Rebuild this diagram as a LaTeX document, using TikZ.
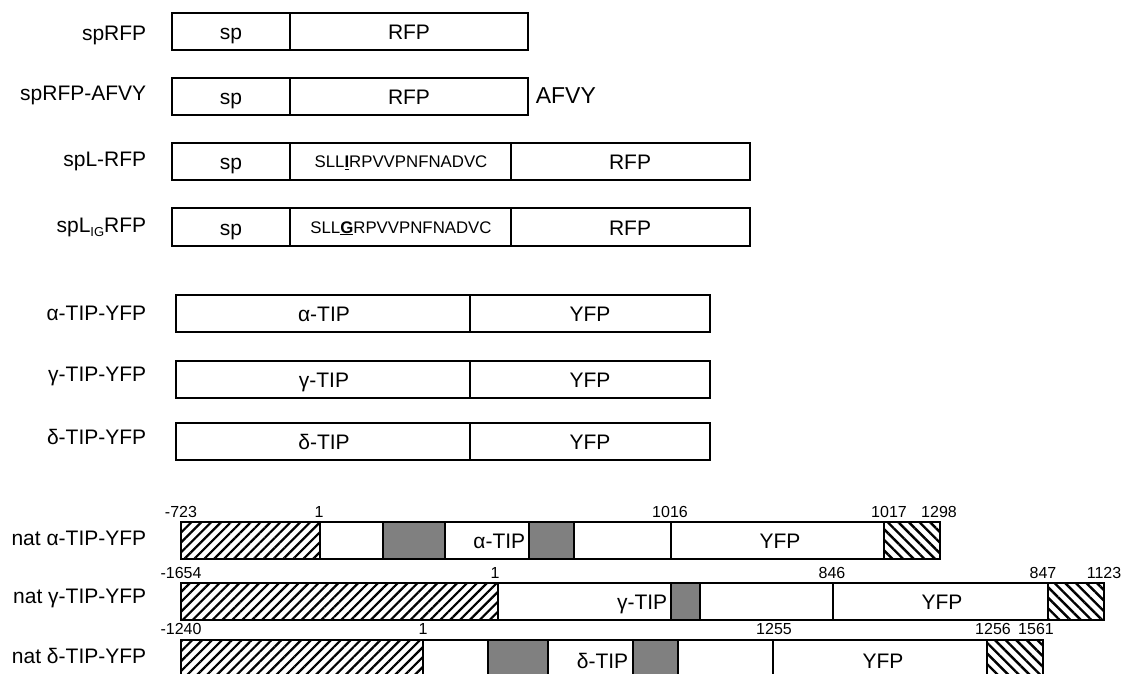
\documentclass[tikz,border=0pt]{standalone}
\usepackage{fontspec}
\setmainfont{Liberation Sans}
\usetikzlibrary{patterns.meta}
\begin{document}
\begin{tikzpicture}[x=1pt,y=-1pt,line width=1.6pt,
  lbl/.style={anchor=base east,font=\fontsize{21}{24}\selectfont,inner sep=0pt},
  btxt/.style={anchor=base,font=\fontsize{21}{24}\selectfont,inner sep=0pt},
  stxt/.style={anchor=base,font=\fontsize{16.8}{19}\selectfont,inner sep=0pt},
  num/.style={anchor=base,font=\fontsize{16}{19}\selectfont,inner sep=0pt},
  seg/.style={draw=black,fill=white},
  hatchL/.style={draw=black,pattern={Lines[angle=45,distance=7pt,line width=2.2pt]}},
  hatchR/.style={draw=black,pattern={Lines[angle=-45,distance=7.5pt,line width=2.4pt]}},
  greyblk/.style={draw=black,fill=black!50}]
\clip (0,0) rectangle (1127,674);
\fill[white] (0,0) rectangle (1127,674);

% ---- spRFP
\draw[seg] (172,13) rectangle (528,50);
\draw (290,13) -- (290,50);
\node[lbl] (l1) at (147,40.5) {spRFP};
\node[btxt] (t1a) at (231,40) {sp};
\node[btxt] (t1b) at (409,40) {RFP};

% ---- spRFP-AFVY
\draw[seg] (172,78) rectangle (528,115);
\draw (290,78) -- (290,115);
\node[lbl] (l2) at (147,100.5) {spRFP-AFVY};
\node[btxt] (t2a) at (231,104.5) {sp};
\node[btxt] (t2b) at (409,104.5) {RFP};
\node[anchor=base west,inner sep=0pt,font=\fontsize{23}{26}\selectfont] (t2c) at (535,103.5) {AFVY};

% ---- spL-RFP
\draw[seg] (172,143) rectangle (750,180);
\draw (290,143) -- (290,180);
\draw (511,143) -- (511,180);
\node[lbl] (l3) at (147,166.5) {spL-RFP};
\node[btxt] (t3a) at (231,169.5) {sp};
\node[stxt] (t3b) at (401,167.5) {SLL\underline{\textbf{I}}RPVVPNFNADVC};
\node[btxt] (t3c) at (630,169.5) {RFP};

% ---- spLIGRFP
\draw[seg] (172,208) rectangle (750,246);
\draw (290,208) -- (290,246);
\draw (511,208) -- (511,246);
\node[lbl] (l4) at (147,232.5) {spL\raisebox{-0.35ex}{\fontsize{13}{14}\selectfont IG}RFP};
\node[btxt] (t4a) at (231,235) {sp};
\node[stxt] (t4b) at (401,233) {SLL\underline{\textbf{G}}RPVVPNFNADVC};
\node[btxt] (t4c) at (630,235) {RFP};

% ---- alpha-TIP-YFP
\draw[seg] (176,295) rectangle (710,332);
\draw (470,295) -- (470,332);
\node[lbl] (l5) at (147,320.5) {α-TIP-YFP};
\node[btxt] (t5a) at (324,321.5) {α-TIP};
\node[btxt] (t5b) at (590,321.5) {YFP};

% ---- gamma-TIP-YFP
\draw[seg] (176,361) rectangle (710,398);
\draw (470,361) -- (470,398);
\node[lbl] (l6) at (147,381) {γ-TIP-YFP};
\node[btxt] (t6a) at (324,387.5) {γ-TIP};
\node[btxt] (t6b) at (590,387.5) {YFP};

% ---- delta-TIP-YFP
\draw[seg] (176,423) rectangle (710,460);
\draw (470,423) -- (470,460);
\node[lbl] (l7) at (147,444) {δ-TIP-YFP};
\node[btxt] (t7a) at (324,449.5) {δ-TIP};
\node[btxt] (t7b) at (590,449.5) {YFP};

% ---- nat alpha-TIP-YFP
\draw[seg] (181,522) rectangle (940,559);
\draw[hatchL] (181,522) rectangle (320,559);
\draw[greyblk] (383,522) rectangle (445,559);
\draw[greyblk] (529,522) rectangle (574,559);
\draw (671,522) -- (671,559);
\draw[hatchR] (884,522) rectangle (940,559);
\node[lbl] (l8) at (147,545.5) {nat α-TIP-YFP};
\node[btxt,anchor=base east] (t8a) at (526,548.5) {α-TIP};
\node[btxt] (t8b) at (780,548.5) {YFP};
\node[num] (n8a) at (181,517) {-723};
\node[num] (n8b) at (319,517) {1};
\node[num] (n8c) at (670,517) {1016};
\node[num] (n8d) at (889,517) {1017};
\node[num] (n8e) at (939,517) {1298};

% ---- nat gamma-TIP-YFP
\draw[seg] (181,583) rectangle (1104,620);
\draw[hatchL] (181,583) rectangle (498,620);
\draw[greyblk] (671,583) rectangle (700,620);
\draw (833,583) -- (833,620);
\draw[hatchR] (1048,583) rectangle (1104,620);
\node[lbl] (l9) at (147,603.5) {nat γ-TIP-YFP};
\node[btxt,anchor=base east] (t9a) at (668,609) {γ-TIP};
\node[btxt] (t9b) at (942,609) {YFP};
\node[num] (n9a) at (181,578) {-1654};
\node[num] (n9b) at (495,578) {1};
\node[num] (n9c) at (832,578) {846};
\node[num] (n9d) at (1043,578) {847};
\node[num] (n9e) at (1104,578) {1123};

% ---- nat delta-TIP-YFP
\draw[seg] (181,640) rectangle (1043,678);
\draw[hatchL] (181,640) rectangle (423,678);
\draw[greyblk] (488,640) rectangle (548,678);
\draw[greyblk] (633,640) rectangle (678,678);
\draw (773,640) -- (773,678);
\draw[hatchR] (987,640) rectangle (1043,678);
\node[lbl] (l10) at (147,663.5) {nat δ-TIP-YFP};
\node[btxt,anchor=base east] (t10a) at (629,668) {δ-TIP};
\node[btxt] (t10b) at (883,668) {YFP};
\node[num] (n10a) at (181,634) {-1240};
\node[num] (n10b) at (423,634) {1};
\node[num] (n10c) at (774,634) {1255};
\node[num] (n10d) at (993,634) {1256};
\node[num] (n10e) at (1036,634) {1561};
\end{tikzpicture}
\end{document}
